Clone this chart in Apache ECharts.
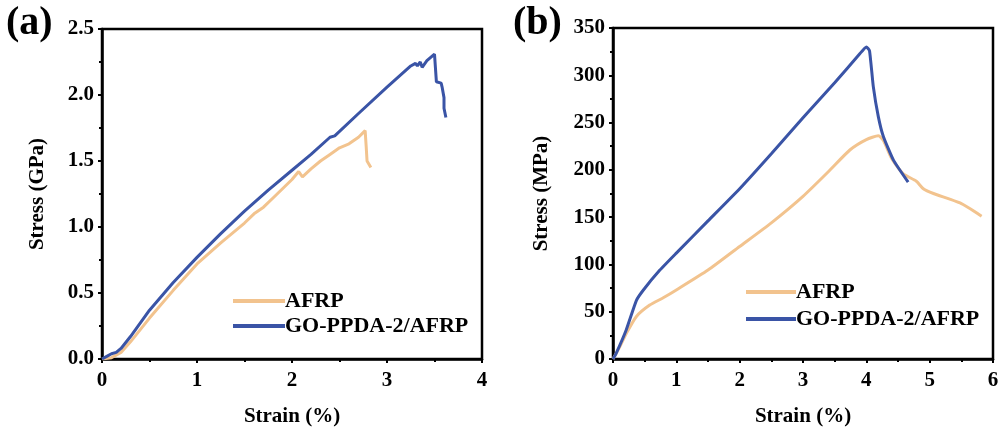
<!DOCTYPE html>
<html>
<head>
<meta charset="utf-8">
<script src="https://cdn.jsdelivr.net/npm/echarts@6/dist/echarts.min.js"></script>
<style>html,body{margin:0;padding:0;background:#fff}#c{width:1003px;height:432px}</style>
</head>
<body>
<div id="c"></div>
<script>
// Panel (a): strain (%) vs stress (GPa)
const aAFRP = [[0,0],[0.1,0.01],[0.2,0.05],[0.3,0.13],[0.5,0.31],[0.75,0.52],[1.0,0.72],[1.25,0.88],[1.5,1.03],[1.6,1.10],[1.7,1.15],[1.8,1.22],[2.0,1.36],[2.07,1.42],[2.11,1.38],[2.2,1.44],[2.3,1.50],[2.4,1.55],[2.5,1.60],[2.6,1.63],[2.7,1.68],[2.77,1.73],[2.78,1.62],[2.79,1.50],[2.83,1.45]];
const aGO = [[0,0],[0.05,0.02],[0.1,0.04],[0.15,0.05],[0.2,0.08],[0.3,0.17],[0.5,0.37],[0.75,0.58],[1.0,0.77],[1.25,0.95],[1.5,1.12],[1.75,1.28],[2.0,1.43],[2.2,1.55],[2.4,1.68],[2.45,1.69],[2.7,1.86],[3.0,2.06],[3.25,2.22],[3.3,2.24],[3.32,2.22],[3.35,2.25],[3.37,2.21],[3.42,2.26],[3.5,2.31],[3.52,2.31],[3.52,2.10],[3.57,2.09],[3.58,2.06],[3.60,1.98],[3.60,1.90],[3.62,1.83]];
// Panel (b): strain (%) vs stress (MPa)
const bAFRP = [[0,0],[0.1,12],[0.21,27],[0.37,45],[0.58,57],[0.8,65],[1.0,73],[1.5,94],[2.0,119],[2.5,144],[3.0,172],[3.4,198],[3.74,221],[4.0,232],[4.19,236],[4.27,231],[4.40,212],[4.58,196],[4.79,188],[4.9,180],[5.06,175],[5.48,165],[5.82,151]];
const bGO = [[0,0],[0.05,6],[0.21,31],[0.37,62],[0.48,73],[0.74,94],[1.0,112],[1.5,146],[2.0,180],[2.5,217],[3.0,255],[3.5,292],[3.9,323],[4.0,330],[4.05,326],[4.11,288],[4.19,256],[4.27,235],[4.43,210],[4.66,187]];
const names = ['AFRP','GO-PPDA-2/AFRP'];
const colors = ['#F2C38E','#3A54A6'];
const xTicksA = [0,4,1];
const yTicksA = [0,2.5,0.5];
const xTicksB = [0,6,1];
const yTicksB = [0,350,50];

const font = 'Liberation Serif';
const FS = 21;
const lbl = {fontFamily:font,fontWeight:'bold',fontSize:FS,color:'#000'};
function axisX(idx, t){
  return {type:'value',gridIndex:idx,min:t[0],max:t[1],interval:t[2],
    name:'Strain (%)',nameLocation:'middle',nameGap:47,
    nameTextStyle:{fontFamily:font,fontWeight:'bold',fontSize:FS,color:'#000'},
    axisLine:{show:true,onZero:false,lineStyle:{color:'#000',width:2.5}},
    axisTick:{show:true,length:4,lineStyle:{color:'#000',width:2}},
    minorTick:{show:true,splitNumber:2,length:3,lineStyle:{color:'#000',width:2}},
    splitLine:{show:false},
    axisLabel:Object.assign({margin:11},lbl)};
}
function axisY(idx, t, title, fmt, gap){
  return {type:'value',gridIndex:idx,min:t[0],max:t[1],interval:t[2],
    name:title,nameLocation:'middle',nameGap:gap,
    nameTextStyle:{fontFamily:font,fontWeight:'bold',fontSize:FS,color:'#000'},
    axisLine:{show:true,onZero:false,lineStyle:{color:'#000',width:2.5}},
    axisTick:{show:true,length:4,lineStyle:{color:'#000',width:2}},
    minorTick:{show:true,splitNumber:2,length:3,lineStyle:{color:'#000',width:2}},
    splitLine:{show:false},
    axisLabel:Object.assign({margin:8,formatter:fmt},lbl)};
}
function ser(name, data, xi, color, smooth){
  return {name:name,type:'line',xAxisIndex:xi,yAxisIndex:xi,data:data,showSymbol:false,
    smooth:smooth,lineStyle:{color:color,width:3},itemStyle:{color:color},z:3};
}
const chart = echarts.init(document.getElementById('c'));
chart.setOption({
  animation:false,
  backgroundColor:'#fff',
  grid:[
    {left:102,top:29,width:380,height:330,show:true,borderColor:'#000',borderWidth:2.5,backgroundColor:'transparent'},
    {left:613,top:28,width:380,height:331,show:true,borderColor:'#000',borderWidth:2.5,backgroundColor:'transparent'}
  ],
  xAxis:[axisX(0,xTicksA),axisX(1,xTicksB)],
  yAxis:[axisY(0,yTicksA,'Stress (GPa)',v=>v.toFixed(1),54),axisY(1,yTicksB,'Stress (MPa)',v=>String(v),61)],
  legend:[
    {left:233,top:290,orient:'vertical',itemWidth:52,itemHeight:4,itemGap:3,icon:'rect',padding:0,
      data:names,textStyle:{fontFamily:font,fontWeight:'bold',fontSize:22,color:'#000',padding:[0,0,0,-5]}},
    {left:746,top:281,orient:'vertical',itemWidth:50,itemHeight:4,itemGap:5,icon:'rect',padding:0,
      data:names,textStyle:{fontFamily:font,fontWeight:'bold',fontSize:22,color:'#000',padding:[0,0,0,-5]}}
  ],
  graphic:[
    {type:'text',left:6,top:4,style:{text:'(a)',font:'bold 40px "Liberation Serif"',fill:'#000'}},
    {type:'text',left:513,top:4,style:{text:'(b)',font:'bold 40px "Liberation Serif"',fill:'#000'}}
  ],
  series:[
    ser(names[0],aAFRP,0,colors[0],false),
    ser(names[1],aGO,0,colors[1],false),
    ser(names[0],bAFRP,1,colors[0],0.2),
    ser(names[1],bGO,1,colors[1],0.15)
  ]
});
</script>
</body>
</html>
